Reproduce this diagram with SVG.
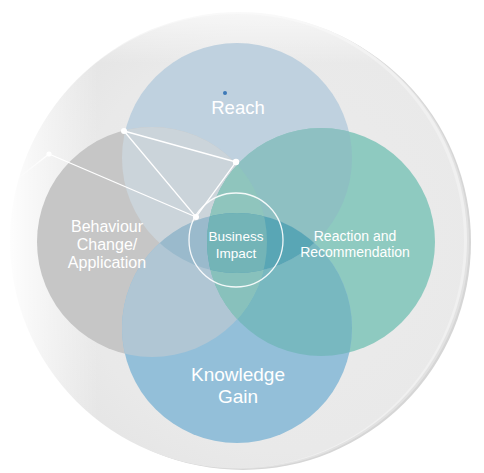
<svg xmlns="http://www.w3.org/2000/svg" width="484" height="473" viewBox="0 0 484 473">
<defs>
<radialGradient id="bg" cx="0.6" cy="0.5" r="0.62">
<stop offset="0" stop-color="#ececec"/>
<stop offset="0.75" stop-color="#e9e9e9"/>
<stop offset="1" stop-color="#e4e4e4"/>
</radialGradient>
<linearGradient id="fadeL" x1="0" y1="0" x2="1" y2="0">
<stop offset="0" stop-color="#ffffff" stop-opacity="1"/>
<stop offset="0.2" stop-color="#ffffff" stop-opacity="0"/>
</linearGradient>
<linearGradient id="fadeT" x1="0" y1="0" x2="0" y2="1">
<stop offset="0" stop-color="#ffffff" stop-opacity="0.7"/>
<stop offset="0.12" stop-color="#ffffff" stop-opacity="0"/>
</linearGradient>
<linearGradient id="lnFade" gradientUnits="userSpaceOnUse" x1="12" y1="183" x2="49" y2="154">
<stop offset="0" stop-color="#ffffff" stop-opacity="0"/>
<stop offset="1" stop-color="#ffffff" stop-opacity="1"/>
</linearGradient>
<clipPath id="cR"><circle cx="237" cy="158" r="115"/></clipPath>
<clipPath id="cG"><circle cx="152" cy="242" r="115"/></clipPath>
<clipPath id="cT"><circle cx="321" cy="242" r="114"/></clipPath>
<clipPath id="cK"><circle cx="237" cy="328" r="115"/></clipPath>
<style>
.lbl{font-family:"Liberation Sans",Arial,sans-serif;fill:#ffffff;text-anchor:middle}
.ln{stroke:#ffffff;stroke-width:1.3;fill:none}
.dot{fill:#ffffff}
</style>
</defs>
<rect width="484" height="473" fill="#ffffff"/>
<g id="background">
<circle cx="243" cy="242" r="228" fill="#d6d6d6"/>
<circle cx="241" cy="241" r="228" fill="#e2e2e2"/>
<circle cx="239" cy="240" r="228" fill="#f0f0f0"/>
<circle cx="237" cy="241" r="227" fill="url(#bg)"/>
<circle cx="237" cy="240" r="232" fill="url(#fadeL)"/>
<circle cx="237" cy="240" r="232" fill="url(#fadeT)"/>
</g>
<g id="reach">
<circle cx="237" cy="158" r="115" fill="#bfd1df"/>
</g>
<g id="behaviour">
<circle cx="152" cy="242" r="115" fill="#c6c6c6"/>
</g>
<g id="reaction">
<circle cx="321" cy="242" r="114" fill="#8ecac0"/>
</g>
<g id="knowledge">
<circle cx="237" cy="328" r="115" fill="#93bfd9"/>
</g>
<g id="overlaps">
<g clip-path="url(#cR)"><circle cx="152" cy="242" r="115" fill="#cbd4da"/></g>
<g clip-path="url(#cR)"><circle cx="321" cy="242" r="114" fill="#8ec0c2"/></g>
<g clip-path="url(#cG)"><circle cx="237" cy="328" r="115" fill="#b0c6d4"/></g>
<g clip-path="url(#cT)"><circle cx="237" cy="328" r="115" fill="#78b8c0"/></g>
<g clip-path="url(#cG)"><circle cx="321" cy="242" r="114" fill="#8dc4be"/></g>
<g clip-path="url(#cR)"><g clip-path="url(#cG)"><circle cx="321" cy="242" r="114" fill="#8fc5bd"/></g></g>
<g clip-path="url(#cK)"><g clip-path="url(#cG)"><circle cx="321" cy="242" r="114" fill="#88c1bc"/></g></g>
<g clip-path="url(#cR)"><circle cx="237" cy="328" r="115" fill="#9abacc"/></g>
<g clip-path="url(#cR)"><g clip-path="url(#cK)"><circle cx="321" cy="242" r="114" fill="#59a6b5"/></g></g>
<g clip-path="url(#cR)"><g clip-path="url(#cK)"><g clip-path="url(#cT)"><circle cx="152" cy="242" r="115" fill="#73b4b7"/></g></g></g>
</g>
<g id="connectors">
<line x1="12" y1="183" x2="49" y2="154" stroke="url(#lnFade)" stroke-width="1.3"/>
<polyline class="ln" points="49,154 196,217"/>
<polyline class="ln" points="124,131 236,162 196,217 124,131"/>
</g>
<g id="dots">
<circle class="dot" cx="49" cy="154" r="2.6"/>
<circle class="dot" cx="124" cy="131" r="3"/>
<circle class="dot" cx="236" cy="162" r="3.2"/>
<circle class="dot" cx="196" cy="217" r="3"/>
<circle cx="225" cy="93" r="2" fill="#3d79b8"/>
</g>
<g id="business">
<circle cx="236" cy="240" r="47" fill="none" stroke="#ffffff" stroke-width="1.3" stroke-opacity="0.9"/>
<text class="lbl" x="236" y="241" font-size="13.5">Business</text>
<text class="lbl" x="236" y="258" font-size="13.5">Impact</text>
</g>
<g id="labels">
<text class="lbl" x="238" y="114" font-size="18.5">Reach</text>
<text class="lbl" x="107" y="232" font-size="16">Behaviour</text>
<text class="lbl" x="107" y="250" font-size="16">Change/</text>
<text class="lbl" x="107" y="268" font-size="16">Application</text>
<text class="lbl" x="355" y="241" font-size="14">Reaction and</text>
<text class="lbl" x="355" y="257" font-size="14">Recommendation</text>
<text class="lbl" x="238" y="381" font-size="19">Knowledge</text>
<text class="lbl" x="238" y="403" font-size="19">Gain</text>
</g>
</svg>
